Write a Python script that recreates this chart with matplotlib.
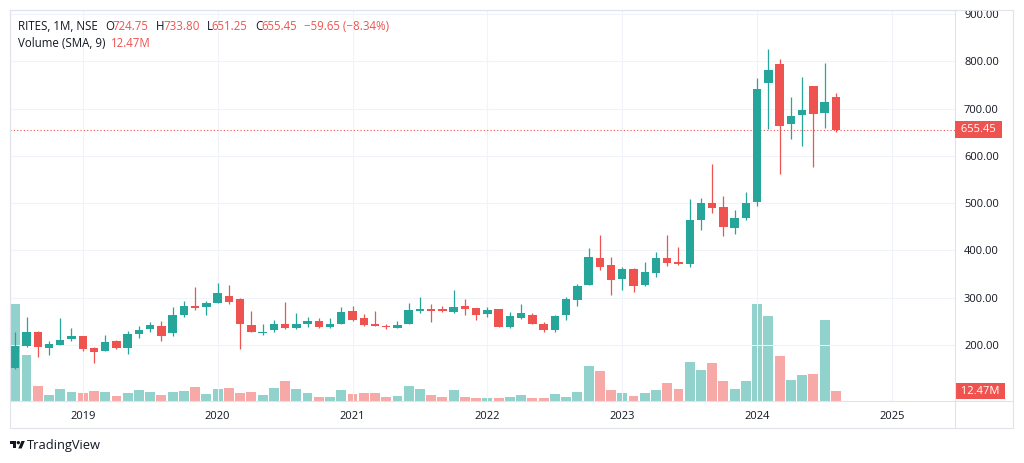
# Bieu do nen thang RITES (NSE) kieu TradingView
import matplotlib
matplotlib.use("Agg")

import pandas as pd
import matplotlib.pyplot as plt
from matplotlib.patches import Rectangle, Polygon, Circle
from matplotlib.lines import Line2D

plt.rcParams["font.family"] = ["Open Sans", "DejaVu Sans"]

# =====================================================
# DU LIEU (doc tu hinh)
# =====================================================

months = pd.period_range("2018-07", "2024-08", freq="M")

opens = [150, 197, 228, 194, 200, 212, 218, 194, 187, 208, 193, 223, 233, 240, 225, 264,
         283, 279, 289, 303, 296, 241, 225, 231, 245, 235, 244, 251, 237, 244, 271, 257,
         245, 240, 235, 244, 272, 275, 275, 269, 283, 277, 265, 275, 237, 257, 263, 245,
         231, 262, 295, 327, 384, 368, 339, 360, 326, 352, 384, 375, 371, 464, 501, 492,
         448, 468, 502, 753, 794, 667, 686, 747, 690, 724.75]
highs = [228, 259, 230, 209, 256, 235, 219, 195, 221, 210, 229, 240, 249, 251, 279, 293,
         323, 293, 330, 326, 300, 271, 244, 252, 291, 267, 259, 256, 256, 280, 283, 265,
         271, 245, 251, 288, 302, 286, 282, 316, 296, 278, 280, 276, 269, 286, 268, 248,
         264, 302, 329, 404, 432, 386, 365, 363, 375, 396, 432, 406, 509, 510, 583, 515,
         485, 524, 764, 826, 804, 724, 767, 747, 796, 733.80]
lows = [148, 195, 175, 178, 199, 208, 187, 161, 186, 191, 180, 214, 228, 209, 218, 259,
        273, 262, 288, 286, 190, 227, 221, 227, 234, 234, 238, 236, 236, 243, 250, 240,
        239, 233, 235, 243, 267, 249, 269, 268, 262, 252, 258, 237, 236, 254, 243, 226,
        227, 252, 281, 326, 358, 305, 316, 311, 325, 343, 367, 369, 364, 443, 478, 430,
        434, 465, 494, 656, 561, 635, 621, 576, 659, 651.25]
closes = [197, 226, 195, 202, 211, 218, 192, 185, 206, 193, 223, 231, 242, 218, 264, 281,
          277, 288, 310, 290, 244, 228, 227, 245, 235, 245, 251, 237, 244, 269, 252, 242,
          240, 237, 241, 274, 275, 272, 271, 280, 276, 262, 273, 238, 261, 267, 244, 231,
          261, 297, 325, 386, 364, 338, 360, 325, 353, 383, 373, 370, 464, 499, 490, 450,
          469, 501, 742, 781, 663, 684, 697, 689, 714, 655.45]
# khoi luong (trieu co phieu)
volumes = [121, 57.5, 18.4, 7.5, 15.4, 11.6, 9.6, 12.5, 11.3, 6.3, 10.4, 13.8, 11.6, 7.5,
           11.6, 12.5, 17.5, 8.4, 15.4, 16.3, 10.4, 11.3, 7.5, 16.3, 24.6, 15.4, 9.6, 4.6,
           5.4, 14.1, 8.4, 9.6, 10.4, 5.4, 6.3, 18.4, 15.4, 7.5, 5.0, 13.4, 5.0, 3.4, 3.4,
           3.8, 5.4, 7.5, 3.8, 3.8, 8.4, 5.4, 11.3, 44.1, 37.1, 14.1, 9.6, 6.6, 10.4, 13.4,
           22.5, 15.0, 48.8, 39.1, 47.1, 24.6, 15.0, 25.0, 120.9, 105.4, 55.9, 26.3, 32.5,
           33.8, 101.6, 12.47]

years = [2019, 2020, 2021, 2022, 2023, 2024, 2025]
price_ticks = [200, 300, 400, 500, 600, 700, 800, 900]

last_price = 655.45
last_volume = 12.47

legend_line1 = [
    ("RITES, 1M, NSE", "dark", 18),
    ("O", "dark", 105), ("724.75", "red", 112.5),
    ("H", "dark", 156), ("733.80", "red", 163),
    ("L", "dark", 206.5), ("651.25", "red", 211.5),
    ("C", "dark", 255), ("655.45", "red", 261.5),
    ("\u221259.65 (\u22128.34%)", "red", 304),
]
legend_line2 = [
    ("Volume (SMA, 9)", "dark", 18),
    ("12.47M", "red", 111),
]

# =====================================================
# MAU SAC
# =====================================================

UP = "#26a69a"
DOWN = "#ef5350"
UP_VOL = "#92d2cc"
DOWN_VOL = "#f7a9a7"
TEXT = "#131722"
GRID = "#f0f3fa"
BORDER = "#e0e3eb"

W, H = 1024, 463


def fx(x):
    return x / W


def fy(y):
    return 1 - y / H


fig = plt.figure(figsize=(W / 100, H / 100), dpi=100)
fig.patch.set_facecolor("white")

rect = [fx(10), fy(401), fx(955) - fx(10), fy(10) - fy(401)]

# truc khoi luong (ve truoc, nam duoi)
axv = fig.add_axes(rect)
# truc gia (ve sau, nam tren)
ax = fig.add_axes(rect, sharex=axv)
ax.patch.set_visible(False)

x = list(range(len(months)))
up = [c >= o for o, c in zip(opens, closes)]
colors = [UP if u else DOWN for u in up]
vol_colors = [UP_VOL if u else DOWN_VOL for u in up]

# ---------------- khoi luong ----------------
axv.bar(x, volumes, width=0.88, color=vol_colors, linewidth=0)
axv.set_ylim(0, 487.6)
axv.set_axis_off()

# ---------------- nen ----------------
ax.vlines(x, lows, highs, colors=colors, linewidth=0.9, zorder=2)
bottoms = [min(o, c) for o, c in zip(opens, closes)]
heights = [max(abs(c - o), 1.8) for o, c in zip(opens, closes)]
ax.bar(x, heights, bottom=bottoms, width=0.75, color=colors, linewidth=0, zorder=3)

# duong gia cuoi
ax.axhline(last_price, color=DOWN, linewidth=0.8, linestyle=(0, (1, 2)), zorder=1)

# ---------------- truc ----------------
year_pos = [(y - months[0].year) * 12 + (1 - months[0].month) for y in years]

ax.set_xlim(-0.47, 83.6)
ax.set_ylim(81, 908.5)

ax.set_xticks(year_pos)
ax.set_xticklabels([str(y) for y in years])
ax.set_yticks(price_ticks)
ax.set_yticklabels([f"{p:.2f}" for p in price_ticks])

ax.yaxis.tick_right()
ax.tick_params(axis="y", length=0, pad=6.5, labelsize=8, labelcolor=TEXT)
ax.tick_params(axis="x", length=0, pad=7, labelsize=8, labelcolor=TEXT)

ax.grid(True, color=GRID, linewidth=0.75)
ax.set_axisbelow(True)

for s in ax.spines.values():
    s.set_color(BORDER)
    s.set_linewidth(0.8)

# nhan gia va khoi luong cuoi
ax.annotate(
    f" {last_price:.2f} ",
    xy=(1, last_price), xycoords=ax.get_yaxis_transform(),
    xytext=(2.3, 0), textcoords="offset points",
    ha="left", va="center", fontsize=8, color="white",
    bbox=dict(boxstyle="square,pad=0.25", fc=DOWN, ec="none"),
    annotation_clip=False,
)
axv.annotate(
    f" {last_volume:.2f}M ",
    xy=(1, last_volume), xycoords=axv.get_yaxis_transform(),
    xytext=(2.3, 0), textcoords="offset points",
    ha="left", va="center", fontsize=8, color="white",
    bbox=dict(boxstyle="square,pad=0.25", fc=DOWN, ec="none"),
    annotation_clip=False,
)

# ---------------- khung ----------------
fig.add_artist(Rectangle((fx(10), fy(428)), fx(1013) - fx(10), fy(10) - fy(428),
                         transform=fig.transFigure, fill=False, ec=BORDER, lw=0.8))
fig.add_artist(Line2D([fx(955), fx(955)], [fy(401), fy(428)],
                      transform=fig.transFigure, color=BORDER, lw=0.8))
fig.add_artist(Line2D([fx(955), fx(1013)], [fy(401), fy(401)],
                      transform=fig.transFigure, color=BORDER, lw=0.8))

# ---------------- chu thich ----------------
for txt, col, px in legend_line1:
    fig.text(fx(px), fy(30), txt, color=TEXT if col == "dark" else DOWN,
             fontsize=8.3, va="baseline", ha="left")
for txt, col, px in legend_line2:
    fig.text(fx(px), fy(46.8), txt, color=TEXT if col == "dark" else DOWN,
             fontsize=8.3, va="baseline", ha="left")

# ---------------- logo TradingView ----------------
logo = fig.add_axes([fx(10), fy(451), fx(25) - fx(10), fy(439.3) - fy(451)])
logo.set_xlim(0, 36)
logo.set_ylim(28, 0)
logo.set_axis_off()
logo.add_patch(Polygon([(14, 22), (7, 22), (7, 11), (0, 11), (0, 4), (14, 4)], fc=TEXT, ec="none"))
logo.add_patch(Polygon([(28, 22), (20, 22), (27.5, 4), (35.5, 4)], fc=TEXT, ec="none"))
logo.add_patch(Circle((20, 8), 4, fc=TEXT, ec="none"))

fig.text(fx(27), fy(445), "TradingView", color=TEXT, fontsize=9.3, va="center", ha="left")

fig.savefig("out.png", dpi=100)
plt.close(fig)
